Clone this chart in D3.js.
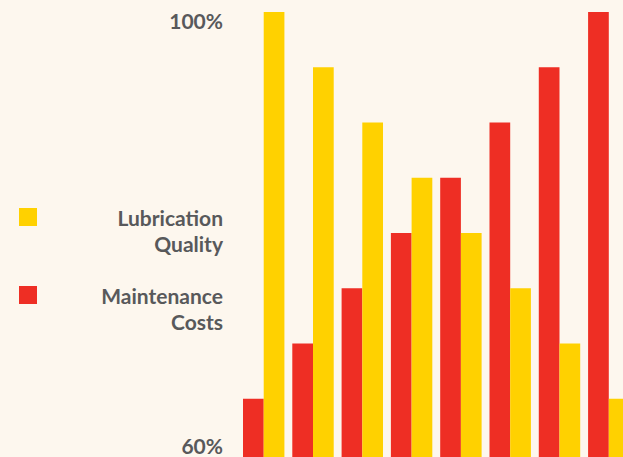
<!DOCTYPE html>
<html><head><meta charset="utf-8">
<script src="https://cdn.jsdelivr.net/npm/d3@7"></script>
<style>
html,body{margin:0;padding:0;background:#fdf7ee;overflow:hidden}
text{font-family:Lato,"Noto Sans",sans-serif;font-weight:700;fill:#58595b}
</style></head><body>
<svg id="c" width="623" height="457"></svg>
<script>
const categories = ["1","2","3","4","5","6","7","8"];
const maintenanceCosts = [65,70,75,80,85,90,95,100];
const lubricationQuality = [100,95,90,85,80,75,70,65];
const seriesNames = ["Maintenance Costs","Lubrication Quality"];
const seriesColors = ["#ee2e24","#ffd100"];
const yTicks = [60,100];

const W=623,H=457;
const svg=d3.select("#c");
svg.append("rect").attr("width",W).attr("height",H).attr("fill","#fdf7ee");

const x0=d3.scaleBand().domain(categories).range([243,629.5]).paddingInner(0.16).paddingOuter(0);
const x1=d3.scaleBand().domain(seriesNames).range([0,x0.bandwidth()]);
const y=d3.scaleLinear().domain([60,100]).range([454,12]);
const color=d3.scaleOrdinal().domain(seriesNames).range(seriesColors);

const rows=categories.map((c,i)=>({c,vals:[
  {s:seriesNames[0],v:maintenanceCosts[i]},
  {s:seriesNames[1],v:lubricationQuality[i]}]}));

const g=svg.append("g");
g.selectAll("g.grp").data(rows).join("g").attr("class","grp")
 .attr("transform",d=>`translate(${x0(d.c)},0)`)
 .selectAll("rect").data(d=>d.vals).join("rect")
 .attr("x",d=>x1(d.s)).attr("width",x1.bandwidth())
 .attr("y",d=>y(d.v)).attr("height",d=>H-y(d.v))
 .attr("fill",d=>color(d.s));

// y labels
svg.append("text").attr("x",223).attr("y",y(yTicks[1])+1).attr("dy","0.74em")
 .attr("text-anchor","end").attr("font-size",21).text(yTicks[1]+"%");
svg.append("text").attr("x",223).attr("y",y(yTicks[0]))
 .attr("text-anchor","end").attr("font-size",21).text(yTicks[0]+"%");

// legend
const legend=[
  {name:seriesNames[1],lines:["Lubrication","Quality"],top:208},
  {name:seriesNames[0],lines:["Maintenance","Costs"],top:286}];
const lg=svg.append("g").selectAll("g").data(legend).join("g");
lg.append("rect").attr("x",19).attr("y",d=>d.top).attr("width",18).attr("height",18)
 .attr("fill",d=>color(d.name));
lg.each(function(d){
  const t=d3.select(this).append("text").attr("text-anchor","end").attr("font-size",21);
  d.lines.forEach((l,i)=>t.append("tspan").attr("x",223).attr("y",d.top+18+i*25.5).text(l));
});
</script></body></html>
